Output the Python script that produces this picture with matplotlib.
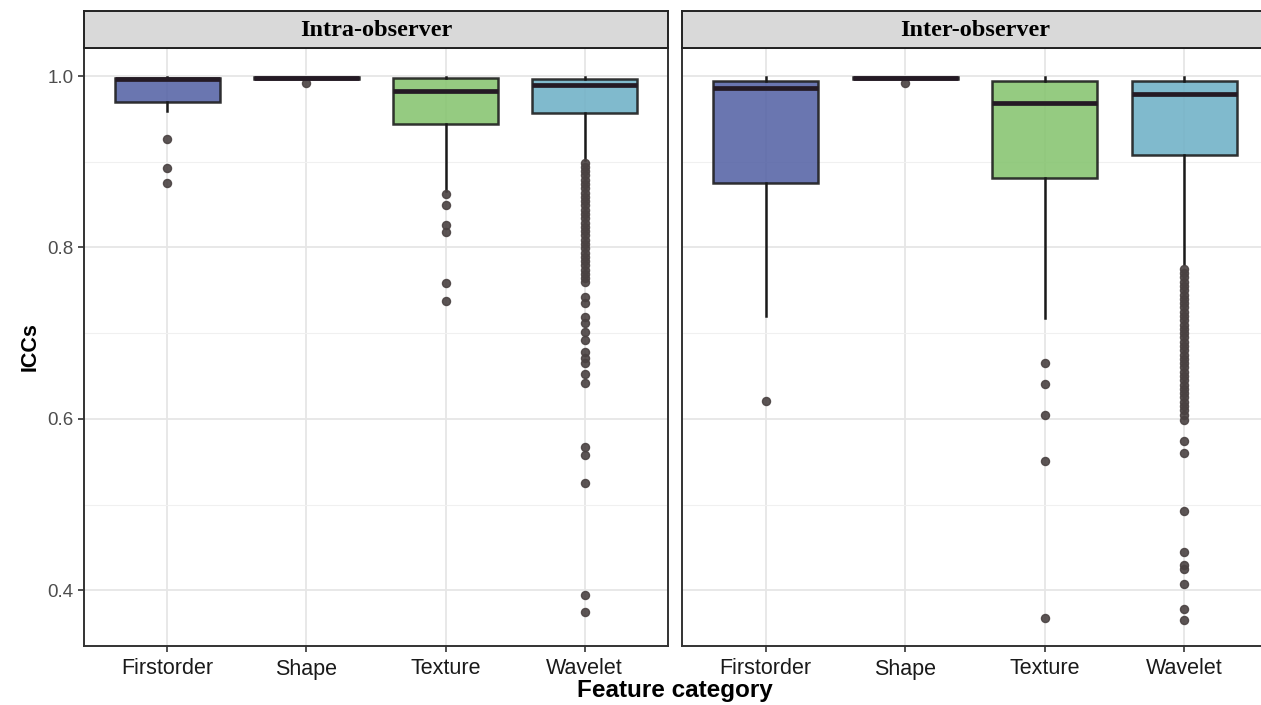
import matplotlib.pyplot as plt

# ------------------------------------------------------------
# ICC values per feature category (intra / inter observer)
# ------------------------------------------------------------
categorias = ["Firstorder", "Shape", "Texture", "Wavelet"]
paineis = ["Intra-observer", "Inter-observer"]

# box stats: q1, mediana, q3, bigode inferior, bigode superior
intra_q1 = [0.970, 0.997, 0.944, 0.957]
intra_med = [0.997, 0.998, 0.983, 0.989]
intra_q3 = [0.998, 0.999, 0.998, 0.9965]
intra_low = [0.959, 0.996, 0.866, 0.902]
intra_high = [0.999, 0.999, 0.999, 0.999]

inter_q1 = [0.875, 0.997, 0.881, 0.908]
inter_med = [0.986, 0.998, 0.969, 0.979]
inter_q3 = [0.994, 0.999, 0.994, 0.994]
inter_low = [0.720, 0.996, 0.718, 0.781]
inter_high = [0.999, 0.999, 0.999, 0.999]

# outliers
intra_out = [
    [0.9265, 0.893, 0.875],
    [0.992],
    [0.862, 0.850, 0.826, 0.818, 0.759, 0.738],
    [0.899, 0.894, 0.889, 0.884, 0.879, 0.874, 0.869, 0.864, 0.859, 0.854,
     0.849, 0.844, 0.839, 0.834, 0.829, 0.824, 0.819, 0.814, 0.809, 0.804,
     0.799, 0.794, 0.789, 0.784, 0.779, 0.774, 0.769, 0.764, 0.760,
     0.742, 0.735, 0.719, 0.712, 0.701, 0.692, 0.678, 0.671, 0.665,
     0.652, 0.642, 0.567, 0.558, 0.525, 0.395, 0.375],
]
inter_out = [
    [0.621],
    [0.992],
    [0.665, 0.641, 0.605, 0.551, 0.368],
    [0.775, 0.770, 0.765, 0.760, 0.755, 0.750, 0.745, 0.740, 0.735, 0.730,
     0.725, 0.720, 0.715, 0.710, 0.705, 0.700, 0.695, 0.690, 0.685, 0.680,
     0.675, 0.670, 0.665, 0.660, 0.655, 0.650, 0.645, 0.640, 0.635, 0.630,
     0.625, 0.620, 0.615, 0.610, 0.605, 0.599,
     0.574, 0.560, 0.493, 0.445, 0.430, 0.425, 0.407, 0.378, 0.365],
]

cores = ["#5563A5", "#1a1a1a", "#86C470", "#6FB1C6"]

dados = [
    (intra_q1, intra_med, intra_q3, intra_low, intra_high, intra_out),
    (inter_q1, inter_med, inter_q3, inter_low, inter_high, inter_out),
]

# ------------------------------------------------------------
# figura
# ------------------------------------------------------------
fig = plt.figure(figsize=(12.61, 7.05), dpi=100)

W, H = 1261, 705
pos_x = [(84, 668), (682, 1268)]
topo, base = 48, 646
faixa_topo = 11

for p, (x0, x1) in enumerate(pos_x):
    ax = fig.add_axes([x0 / W, 1 - base / H, (x1 - x0) / W, (base - topo) / H])
    q1, med, q3, lo, hi, outs = dados[p]

    stats = []
    for i in range(len(categorias)):
        stats.append(dict(q1=q1[i], med=med[i], q3=q3[i], whislo=lo[i],
                          whishi=hi[i], fliers=outs[i], label=categorias[i]))

    bp = ax.bxp(stats, positions=range(1, 5), widths=0.75, patch_artist=True,
                showcaps=False, zorder=3,
                boxprops=dict(edgecolor="#1a1a1a", linewidth=1.8),
                whiskerprops=dict(color="#1a1a1a", linewidth=1.8),
                medianprops=dict(color="#241a24", linewidth=3.4),
                flierprops=dict(marker="o", markersize=5.8, markerfacecolor="#4a4242",
                                markeredgecolor="#4a4242", alpha=0.9))
    for patch, c in zip(bp["boxes"], cores):
        patch.set_facecolor(c)
        patch.set_alpha(0.88)
        patch.set_edgecolor("#1a1a1a")

    ax.set_xlim(0.4, 4.6)
    ax.set_ylim(0.335, 1.0327)
    ax.set_yticks([0.4, 0.6, 0.8, 1.0])
    ax.set_yticks([0.5, 0.7, 0.9], minor=True)
    ax.set_xticks(range(1, 5))
    ax.set_xticklabels(categorias, fontsize=15.5, color="#1a1a1a",
                       family="Liberation Sans")
    ax.grid(True, which="major", color="#e6e6e6", linewidth=1.3, zorder=0)
    ax.grid(True, which="minor", axis="y", color="#f0f0f0", linewidth=0.8, zorder=0)
    ax.set_axisbelow(True)
    ax.tick_params(axis="both", which="major", length=4, width=1.2, color="#333333")
    ax.tick_params(axis="x", pad=5)
    ax.tick_params(axis="y", which="minor", length=0)
    if p == 0:
        ax.set_yticklabels(["0.4", "0.6", "0.8", "1.0"], fontsize=13.5,
                           color="#4d4d4d", family="Liberation Sans")
    else:
        ax.tick_params(axis="y", which="both", length=0, labelleft=False)
    for s in ax.spines.values():
        s.set_color("#333333")
        s.set_linewidth(1.4)

    # faixa do título do painel
    sx = fig.add_axes([x0 / W, 1 - topo / H, (x1 - x0) / W, (topo - faixa_topo) / H])
    sx.set_facecolor("#d9d9d9")
    sx.set_xticks([])
    sx.set_yticks([])
    for s in sx.spines.values():
        s.set_color("#222222")
        s.set_linewidth(1.4)
    sx.text(0.5, 0.48, paineis[p], ha="center", va="center", fontsize=17.5,
            fontweight="bold", family="Liberation Serif", transform=sx.transAxes)

fig.text(30 / W, 1 - 347 / H, "ICCs", rotation=90, ha="center", va="center",
         fontsize=15.5, fontweight="bold", family="Liberation Sans")
fig.text(675 / W, 1 - 690 / H, "Feature category", ha="center", va="center",
         fontsize=17.5, fontweight="bold", family="Liberation Sans")

plt.savefig("out.png", dpi=100)
